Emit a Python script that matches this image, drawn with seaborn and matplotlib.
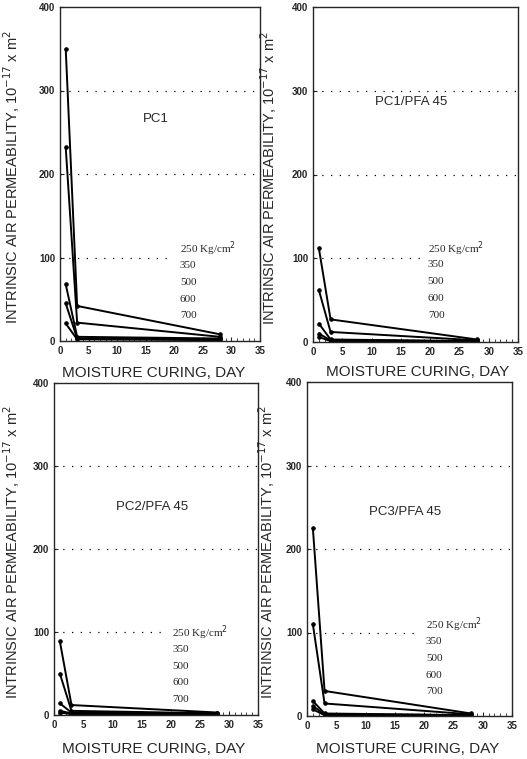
import pandas as pd
import numpy as np
import matplotlib.pyplot as plt
import seaborn as sns

# curing days and compaction pressures
days = [1, 3, 28]
strengths = ['250', '350', '500', '600', '700']

# permeability (10^-17 m2), one list per strength
pc1 = [[350, 42, 8], [232, 22, 5], [68, 5, 3], [45, 3, 2], [21, 2, 1]]
pc1_pfa45 = [[112, 27, 3], [62, 12, 2], [22, 3, 1], [10, 2, 1], [6, 1, 1]]
pc2_pfa45 = [[89, 12, 3], [50, 5, 2], [14, 3, 1], [5, 2, 1], [3, 1, 1]]
pc3_pfa45 = [[225, 30, 3], [110, 15, 2], [18, 3, 1], [12, 2, 1], [8, 1, 1]]

panels = {'PC1': pc1, 'PC1/PFA 45': pc1_pfa45, 'PC2/PFA 45': pc2_pfa45, 'PC3/PFA 45': pc3_pfa45}

sns.set_style('ticks')
plt.rcParams['font.family'] = ['Liberation Sans', 'DejaVu Sans']

fig = plt.figure(figsize=(5.27, 7.59), dpi=100)
W, H = 527, 759
# axes boxes in pixels: left, top, right, bottom
boxes = [(60, 7, 260, 341), (313, 7, 518, 342), (54, 383, 258, 715), (307, 382, 512, 716)]
title_y = [266, 286, 250, 244]
legend_y = [110, 112, 99, 109]
legend_x = [0.60, 0.56, 0.58, 0.58]
ylab_x = [-0.19, -0.166, -0.157, -0.146]
xlab_pos = [(0.47, -0.075), (0.51, -0.07), (0.49, -0.08), (0.49, -0.078)]

for i, (name, vals) in enumerate(panels.items()):
    l, t, r, b = boxes[i]
    ax = fig.add_axes([l / W, 1 - b / H, (r - l) / W, (b - t) / H])
    rows = []
    for s, v in zip(strengths, vals):
        for d, p in zip(days, v):
            rows.append({'day': d, 'perm': p, 'strength': s})
    df = pd.DataFrame(rows)
    sns.lineplot(data=df, x='day', y='perm', units='strength', estimator=None,
                 color='black', marker='o', markersize=2.5, markeredgecolor='black',
                 linewidth=1.4, ax=ax)
    ax.set_xlim(0, 35)
    ax.set_ylim(0, 400)
    ax.set_xticks(range(0, 36, 5))
    ax.set_xticks(range(0, 36, 1), minor=True)
    ax.set_yticks([0, 100, 200, 300, 400])
    ax.tick_params(axis='both', direction='in', labelsize=7, length=3, width=0.8)
    ax.tick_params(axis='x', which='minor', direction='in', length=2, width=0.6)
    for lab in ax.get_xticklabels() + ax.get_yticklabels():
        lab.set_fontweight('bold')
    for sp in ax.spines.values():
        sp.set_linewidth(1.0)
    # dotted reference lines
    ax.axhline(300, color='black', linestyle=(0, (1, 6)), linewidth=0.9)
    ax.axhline(200, color='black', linestyle=(0, (1, 6)), linewidth=0.9)
    ax.axhline(100, xmax=0.55, color='black', linestyle=(0, (1, 6)), linewidth=0.9)
    ax.text(0.48, title_y[i], name, transform=ax.get_yaxis_transform(),
            ha='center', va='center', fontsize=9.5)
    for k, s in enumerate(strengths):
        lab = s + ' Kg/cm$^2$' if k == 0 else s
        ax.text(legend_x[i], legend_y[i] - k * 20, lab, transform=ax.get_yaxis_transform(),
                ha='left', va='center', fontsize=8, family='Liberation Serif')
    ax.set_xlabel('MOISTURE CURING, DAY', fontsize=11)
    ax.set_ylabel('INTRINSIC AIR PERMEABILITY, 10$^{-17}$ x m$^2$', fontsize=10.5)
    ax.xaxis.set_label_coords(*xlab_pos[i])
    ax.yaxis.set_label_coords(ylab_x[i], 0.49)

fig.savefig('out.png', dpi=100)
